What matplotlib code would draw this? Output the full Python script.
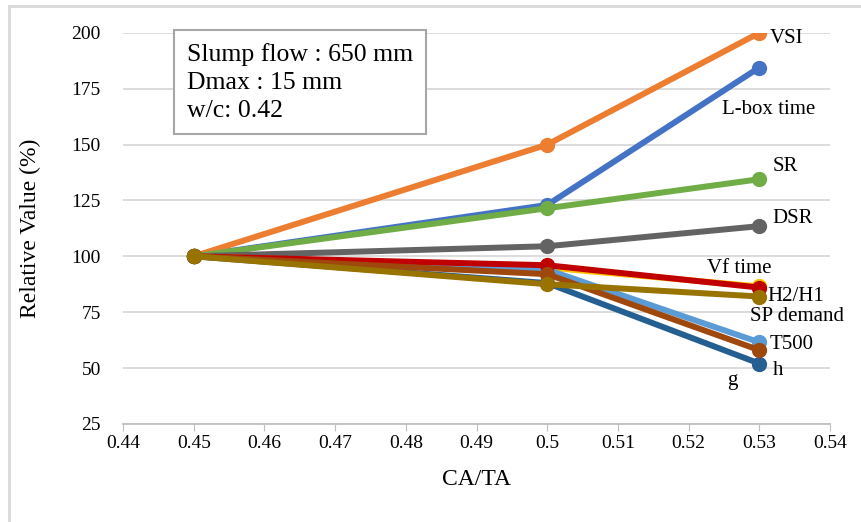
import matplotlib.pyplot as plt
from matplotlib.patches import Rectangle

plt.rcParams['font.family'] = ['Liberation Serif', 'DejaVu Serif']

ca_ta = [0.45, 0.5, 0.53]

# relative values (%)
l_box = [100, 123, 184.5]
vsi = [100, 150, 200]
sr = [100, 121.5, 134.5]
dsr = [100, 104.5, 113.5]
h2_h1 = [100, 95, 86.5]
t500 = [100, 94, 61.5]
h = [100, 88, 52]
vf_time = [100, 96, 86]
g = [100, 92, 58]
sp_demand = [100, 87.5, 82]

series = [
    ('L-box time', l_box, '#4472C4'),
    ('VSI', vsi, '#ED7D31'),
    ('SR', sr, '#70AD47'),
    ('DSR', dsr, '#636363'),
    ('H2/H1', h2_h1, '#FFC000'),
    ('T500', t500, '#5B9BD5'),
    ('h', h, '#255E91'),
    ('Vf time', vf_time, '#C00000'),
    ('g', g, '#9E480E'),
    ('SP demand', sp_demand, '#997300'),
]

# label positions next to the line ends (data coords)
label_pos = {
    'VSI': (0.5315, 197.5),
    'L-box time': (0.5247, 165.5),
    'SR': (0.5319, 140),
    'DSR': (0.5318, 117),
    'Vf time': (0.5226, 94.6),
    'H2/H1': (0.5312, 82),
    'SP demand': (0.5287, 73),
    'T500': (0.5315, 60.5),
    'h': (0.5319, 49),
    'g': (0.5254, 44.4),
}

fig = plt.figure(figsize=(8.61, 5.22), dpi=100)
ax = fig.add_axes([0.143, 0.188, 0.821, 0.749])

for name, vals, col in series:
    ax.plot(ca_ta, vals, color=col, lw=4.3, marker='o', ms=10,
            solid_capstyle='round')

for name, (tx, ty) in label_pos.items():
    ax.text(tx, ty, name, fontsize=15, va='center', ha='left')

ax.set_xlim(0.44, 0.54)
ax.set_ylim(25, 200)
ax.set_xticks([0.44, 0.45, 0.46, 0.47, 0.48, 0.49, 0.5, 0.51, 0.52, 0.53, 0.54])
ax.set_xticklabels(['0.44', '0.45', '0.46', '0.47', '0.48', '0.49', '0.5',
                    '0.51', '0.52', '0.53', '0.54'])
ax.set_yticks(range(25, 201, 25))
ax.grid(axis='y', color='#D9D9D9', lw=1.3)
ax.set_axisbelow(True)
for s in ['top', 'right', 'left']:
    ax.spines[s].set_visible(False)
ax.spines['bottom'].set_color('#BFBFBF')
ax.spines['bottom'].set_linewidth(1.3)
ax.tick_params(axis='x', length=5, color='#BFBFBF', labelsize=14, pad=3)
ax.tick_params(axis='y', length=0, labelsize=14, pad=16)
ax.set_xlabel('CA/TA', fontsize=17, labelpad=12)
ax.set_ylabel('Relative Value (%)', fontsize=17, labelpad=22)

ax.text(0.09, 0.975,
        'Slump flow : 650 mm\nDmax : 15 mm\nw/c: 0.42',
        transform=ax.transAxes, fontsize=18.5, va='top', ha='left',
        linespacing=1.35,
        bbox=dict(boxstyle='square,pad=0.5', fc='white', ec='#A6A6A6', lw=1.5))

# outer chart border (cropped on right and bottom)
fig.patches.append(Rectangle((9 / 861, -0.1), 1.2, 1.1 - 6 / 522,
                             transform=fig.transFigure, fill=False,
                             ec='#D9D9D9', lw=2))

fig.savefig('out.png', dpi=100)
